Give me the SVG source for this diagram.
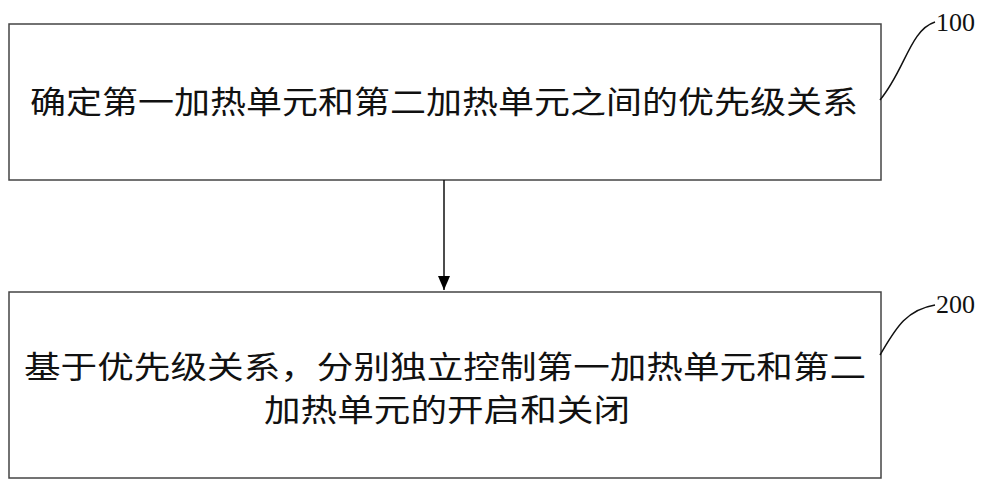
<svg xmlns="http://www.w3.org/2000/svg" width="1000" height="489" viewBox="0 0 1000 489">
<defs><marker id="ah" markerWidth="14" markerHeight="12" refX="14" refY="6" orient="auto" markerUnits="userSpaceOnUse"><path d="M0,0 L14,6 L0,12 Z" fill="#000"/></marker></defs>
<style>.b{fill:#fff;stroke:#444;stroke-width:1.5}.t{font-family:"Noto Sans CJK SC","Liberation Serif",serif;font-size:31px;fill:#111}.n{font-family:"Liberation Serif",serif;font-size:26px;fill:#111}.l{fill:none;stroke:#111;stroke-width:1.5}</style>
<rect width="1000" height="489" fill="#fff"/>
<g id="step100"><rect class="b" x="9" y="24" width="872" height="156"/>
<text class="t" x="30" y="113" textLength="828" lengthAdjust="spacingAndGlyphs">确定第一加热单元和第二加热单元之间的优先级关系</text></g>
<g id="step200"><rect class="b" x="9" y="292" width="872" height="186"/>
<text class="t" x="24" y="378" textLength="842" lengthAdjust="spacingAndGlyphs">基于优先级关系，分别独立控制第一加热单元和第二</text>
<text class="t" x="264" y="421" textLength="366" lengthAdjust="spacingAndGlyphs">加热单元的开启和关闭</text></g>
<g id="labels"><text class="n" x="936" y="31">100</text><text class="n" x="936" y="313">200</text></g>
<g id="connectors"><path class="l" d="M444,180 V290" marker-end="url(#ah)"/>
<path class="l" d="M880,100 C905,70 910,30 935,22"/>
<path class="l" d="M880,355 C895,330 905,310 935,305"/></g>
</svg>
